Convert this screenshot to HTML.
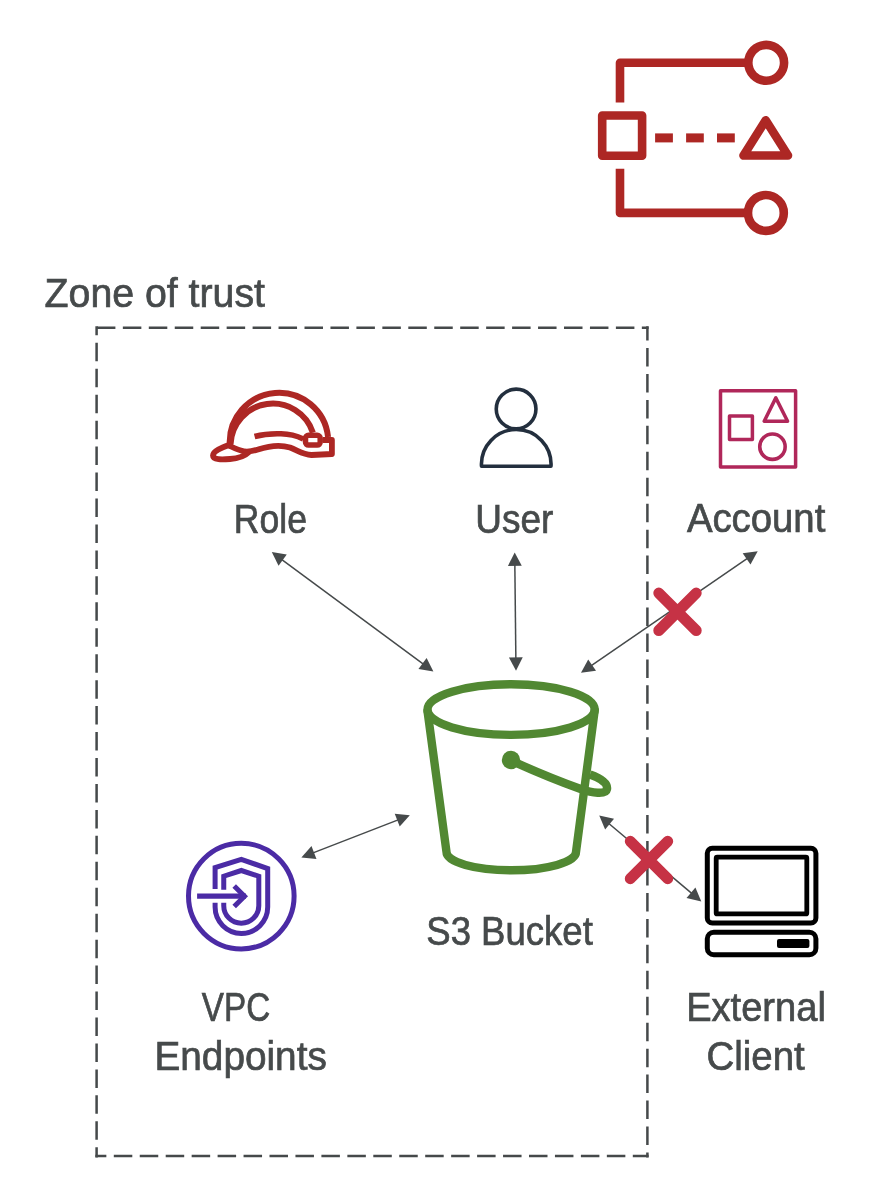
<!DOCTYPE html>
<html><head><meta charset="utf-8"><style>
html,body{margin:0;padding:0;background:#fff;width:882px;height:1182px;overflow:hidden}
svg{position:absolute;left:0;top:0;display:block;will-change:transform}
text{font-family:"Liberation Sans",sans-serif;font-size:40px;fill:#464a4b;stroke:#464a4b;stroke-width:0.7px}
</style></head><body>
<svg width="882" height="1182" viewBox="0 0 882 1182">
<g fill="none" stroke="#ad2724" stroke-width="8.6" stroke-linejoin="round">
<path d="M620,102.5 L620,62.8 L749,62.8"/>
<path d="M620,168.8 L620,212.9 L749,212.9"/>
<circle cx="766.2" cy="62.8" r="17.9" stroke-width="8.6"/>
<circle cx="765.9" cy="212.95" r="17.9" stroke-width="8.6"/>
<rect x="602.2" y="115.5" width="39.9" height="40.3"/>
<path d="M743.5,155.5 L788,155.5 L765.7,120.3 Z"/>
</g>
<g fill="#ad2724">
<rect x="655.1" y="133.4" width="17.8" height="9"/>
<rect x="686.1" y="133.4" width="17.7" height="9"/>
<rect x="717" y="133.4" width="17.8" height="9"/>
</g>
<g stroke="#45494a" stroke-width="2.5" fill="none" stroke-dasharray="18.5 7.45">
<line x1="95.4" y1="327.8" x2="648.6" y2="327.8" stroke-dashoffset="24.45"/>
<line x1="96.6" y1="326.3" x2="96.6" y2="1157.4" stroke-dashoffset="9.45"/>
<line x1="95.4" y1="1156.1" x2="648.6" y2="1156.1" stroke-dashoffset="7.55"/>
<line x1="647.4" y1="326.3" x2="647.4" y2="1157.4" stroke-dashoffset="4.25"/>
</g>
<g fill="none" stroke="#ad2724" stroke-width="6" stroke-linejoin="round" stroke-linecap="butt">
<path d="M229.8,445 A49.3,49.3 0 0 1 328.05,437"/>
<path d="M230.56,444 A42.25,42.25 0 0 1 312.9,432.6"/>
<path d="M254.6,436.5 C262,434.5 272,433.5 281,433.8 C290,434 297,436 303.3,439" stroke-width="5.6"/>
<rect x="305.5" y="435.2" width="14.7" height="9.9" rx="3" stroke-width="5.5"/>
<path d="M322.8,440 L331.9,440 L331.9,454 L311.5,455 C303,454.5 298,450.5 290,447.5 C282,445 270,445.5 258,449.5 C253,451 249,452 245,451.5 C239,450.5 234,448 230,446" stroke-width="5.8"/>
<path d="M229,445 C222,447.5 213,451 213,455.5 C213,460 222,459.5 230,459 C238,458.5 245,456 249,452" stroke-width="5.8"/>
</g>
<circle cx="230" cy="445.5" r="3.2" fill="#ad2724"/>
<g fill="none" stroke="#232f3e" stroke-width="3.6" stroke-linejoin="round">
<circle cx="516.1" cy="409" r="19.85"/>
<path d="M481.5,466.2 A34.8,34.8 0 1 1 551,466.2 Z"/>
</g>
<g fill="none" stroke="#b0275a" stroke-width="3.5" stroke-linejoin="round">
<rect x="720.5" y="390.7" width="75.1" height="76.2"/>
<rect x="729.5" y="416" width="22.9" height="23.6"/>
<path d="M764.2,421.2 L787.6,421.2 L775.8,397.9 Z"/>
<circle cx="772.45" cy="446.65" r="12.7" stroke-width="3.6"/>
</g>
<line x1="281.85" y1="559.53" x2="423.35" y2="664.07" stroke="#464a4b" stroke-width="1.5"/>
<polygon points="271.80,552.10 278.56,565.67 286.76,554.57" fill="#464a4b"/>
<polygon points="433.40,671.50 418.44,669.03 426.64,657.93" fill="#464a4b"/>
<line x1="514.84" y1="564.90" x2="515.86" y2="658.30" stroke="#464a4b" stroke-width="1.5"/>
<polygon points="514.70,552.40 507.95,565.97 521.75,565.82" fill="#464a4b"/>
<polygon points="516.00,670.80 508.95,657.38 522.75,657.23" fill="#464a4b"/>
<line x1="591.30" y1="665.71" x2="747.40" y2="558.29" stroke="#464a4b" stroke-width="1.5"/>
<polygon points="581.00,672.80 596.03,670.83 588.21,659.46" fill="#464a4b"/>
<polygon points="757.70,551.20 750.49,564.54 742.67,553.17" fill="#464a4b"/>
<line x1="608.81" y1="823.46" x2="691.74" y2="893.34" stroke="#464a4b" stroke-width="1.5"/>
<polygon points="599.25,815.40 605.13,829.38 614.02,818.82" fill="#464a4b"/>
<polygon points="701.30,901.40 686.53,897.98 695.42,887.42" fill="#464a4b"/>
<line x1="313.05" y1="852.87" x2="398.15" y2="819.83" stroke="#464a4b" stroke-width="1.5"/>
<polygon points="301.40,857.40 316.48,858.94 311.49,846.08" fill="#464a4b"/>
<polygon points="409.80,815.30 399.71,826.62 394.72,813.76" fill="#464a4b"/>
<g fill="none" stroke="#518832" stroke-width="8.4" stroke-linejoin="round" stroke-linecap="round">
<ellipse cx="511.1" cy="709.6" rx="83.6" ry="25.3"/>
<path d="M427.5,711 L446.5,852 A64.75,18.3 0 0 0 576,852 L594.75,710" />
<path d="M516.8,763.1 Q550,778 580.7,789 C592,793 606,795 607,789 C608,782 597,777 590,774.5" stroke-width="8.4" stroke-linecap="butt"/>
</g>
<circle cx="511" cy="760" r="9.2" fill="#518832"/>
<g fill="none" stroke="#4b2ba5" stroke-width="5">
<circle cx="241.3" cy="896.1" r="52.8"/>
<path d="M215.1,889 L215.1,867.6 L241.3,859.3 L267.7,868.6 L267.7,907.1 A26.3,26.3 0 0 1 215.1,907.1 L215.1,902.7"/>
<path d="M223.75,889.7 L223.75,876.2 L241.3,870.5 L258.8,876.2 L258.8,905.7 A17.5,17.5 0 0 1 223.75,905.7 L223.75,902.7"/>
<path d="M197.1,896.1 L246,896.1" stroke-width="5.4"/>
<path d="M234.2,886 L244.5,896.3 L234.2,906.6"/>
</g>
<g fill="none" stroke="#000" stroke-width="5">
<rect x="707.3" y="848.3" width="108.6" height="74.7" rx="5"/>
<rect x="716.2" y="857.2" width="90.6" height="56.7" rx="1" stroke-width="4.8"/>
<rect x="707.3" y="932.3" width="108.6" height="22.4" rx="6.5"/>
</g>
<rect x="777" y="939" width="32.4" height="9" rx="2" fill="#000"/>
<path d="M658.80,593.10L696.20,630.50M696.20,593.10L658.80,630.50" stroke="#c63245" stroke-width="11" stroke-linecap="round" fill="none"/>
<path d="M630.30,841.30L667.70,878.70M667.70,841.30L630.30,878.70" stroke="#c63245" stroke-width="11" stroke-linecap="round" fill="none"/>
<text x="44.59" y="307.00" textLength="220.41" lengthAdjust="spacingAndGlyphs">Zone of trust</text>
<text x="233.87" y="532.80" textLength="73.02" lengthAdjust="spacingAndGlyphs">Role</text>
<text x="475.31" y="533.00" textLength="78.09" lengthAdjust="spacingAndGlyphs">User</text>
<text x="686.90" y="531.90" textLength="138.41" lengthAdjust="spacingAndGlyphs">Account</text>
<text x="426.28" y="945.20" textLength="166.53" lengthAdjust="spacingAndGlyphs">S3 Bucket</text>
<text x="201.86" y="1020.80" textLength="68.26" lengthAdjust="spacingAndGlyphs">VPC</text>
<text x="154.44" y="1070.20" textLength="172.39" lengthAdjust="spacingAndGlyphs">Endpoints</text>
<text x="686.20" y="1020.90" textLength="139.67" lengthAdjust="spacingAndGlyphs">External</text>
<text x="706.59" y="1070.20" textLength="98.13" lengthAdjust="spacingAndGlyphs">Client</text>
</svg>
</body></html>
